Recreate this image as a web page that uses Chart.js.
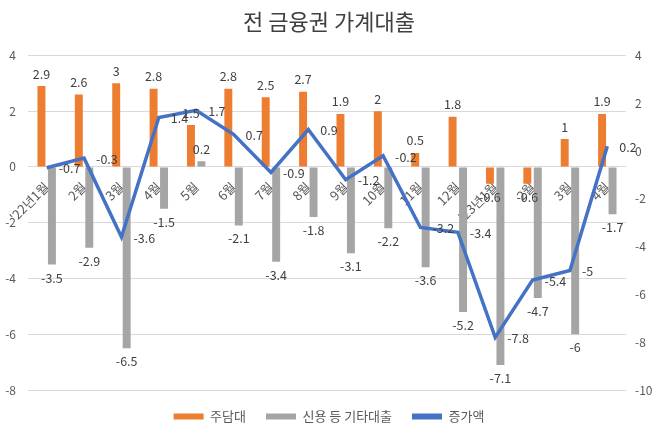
<!DOCTYPE html>
<html>
<head>
<meta charset="utf-8">
<script src="https://cdn.jsdelivr.net/npm/chart.js@4/dist/chart.umd.min.js"></script>
<style>
  html, body { margin: 0; padding: 0; background: #fff; }
  #wrap { width: 658px; height: 433px; }
</style>
</head>
<body>
<div id="wrap"><canvas id="chartjs-0" width="658" height="433"></canvas></div>
<script>
"use strict";

// categories and values
let months = ["'22년1월", "2월", "3월", "4월", "5월", "6월", "7월", "8월", "9월", "10월", "11월", "12월", "'23년1월", "2월", "3월", "4월"];
let mortgage = [2.9, 2.6, 3, 2.8, 1.5, 2.8, 2.5, 2.7, 1.9, 2, 0.5, 1.8, -0.6, -0.6, 1, 1.9];
let creditEtc = [-3.5, -2.9, -6.5, -1.5, 0.2, -2.1, -3.4, -1.8, -3.1, -2.2, -3.6, -5.2, -7.1, -4.7, -6, -1.7];
let increase = [-0.7, -0.3, -3.6, 1.4, 1.7, 0.7, -0.9, 0.9, -1.2, -0.2, -3.2, -3.4, -7.8, -5.4, -5, 0.2];
let leftTicks = [-8, -6, -4, -2, 0, 2, 4];
let rightTicks = [-10, -8, -6, -4, -2, 0, 2, 4];

let fontName = "'Noto Sans CJK KR', 'Noto Sans', sans-serif";

/* draws the value labels next to bars and line points */
let valueLabels = {
    id: "valueLabels",
    afterDatasetsDraw(chart) {
        let ctx = chart.ctx;
        ctx.save();
        ctx.font = "12.5px " + fontName;
        ctx.fillStyle = "#404040";
        chart.data.datasets.forEach(function (ds, di) {
            let meta = chart.getDatasetMeta(di);
            meta.data.forEach(function (el, i) {
                let v = ds.data[i];
                let txt = String(v);
                if (ds.type === "line") {
                    ctx.textAlign = "left";
                    ctx.textBaseline = "middle";
                    ctx.fillText(txt, el.x + 12, el.y + 1);
                } else if (v >= 0) {
                    ctx.textAlign = "center";
                    ctx.textBaseline = "bottom";
                    ctx.fillText(txt, el.x, el.y - 6);
                } else {
                    ctx.textAlign = "center";
                    ctx.textBaseline = "top";
                    ctx.fillText(txt, el.x, el.y + 7);
                }
            });
        });
        ctx.restore();
    }
};

let ctx0 = document.getElementById("chartjs-0");
let myChart0 = new Chart(ctx0, {
    type: "bar",
    data: {
        labels: months,
        datasets: [
            {
                type: "line",
                label: "증가액",
                data: increase,
                yAxisID: "y1",
                borderColor: "#4472C4",
                backgroundColor: "#4472C4",
                borderWidth: 3.5,
                pointRadius: 0,
                tension: 0,
                order: 0
            },
            {
                label: "주담대",
                data: mortgage,
                yAxisID: "y",
                backgroundColor: "#ED7D31",
                categoryPercentage: 0.56,
                barPercentage: 0.76,
                order: 1
            },
            {
                label: "신용 등 기타대출",
                data: creditEtc,
                yAxisID: "y",
                backgroundColor: "#A5A5A5",
                categoryPercentage: 0.56,
                barPercentage: 0.76,
                order: 1
            }
        ]
    },
    options: {
        responsive: false,
        animation: false,
        layout: { padding: { left: 4, right: 4, top: 0, bottom: 0 } },
        plugins: {
            title: {
                display: true,
                text: "전 금융권 가계대출",
                color: "#404040",
                font: { family: fontName, size: 22, weight: "normal" },
                padding: { top: 8, bottom: 21 }
            },
            legend: {
                position: "bottom",
                labels: {
                    color: "#595959",
                    font: { family: fontName, size: 13 },
                    boxWidth: 30,
                    boxHeight: 6,
                    padding: 20,
                    generateLabels(chart) {
                        let items = Chart.defaults.plugins.legend.labels.generateLabels(chart);
                        let order = ["주담대", "신용 등 기타대출", "증가액"];
                        items.forEach(function (it) { it.lineWidth = 0; });
                        items.sort(function (a, b) { return order.indexOf(a.text) - order.indexOf(b.text); });
                        return items;
                    }
                }
            },
            tooltip: { enabled: false }
        },
        scales: {
            x: {
                position: { y: 0 },
                grid: { display: false },
                border: { display: false },
                ticks: {
                    color: "#595959",
                    font: { family: fontName, size: 13 },
                    minRotation: 45,
                    maxRotation: 45,
                    padding: 4,
                    autoSkip: false
                }
            },
            y: {
                position: "left",
                min: -8,
                max: 4,
                afterBuildTicks(scale) { scale.ticks = leftTicks.map(function (v) { return { value: v }; }); },
                afterFit(scale) { scale.width = 24; },
                grid: { color: "#D9D9D9", drawTicks: false },
                border: { display: false },
                ticks: { color: "#595959", font: { family: fontName, size: 12 }, padding: 12 }
            },
            y1: {
                position: "right",
                min: -10,
                max: 4,
                afterBuildTicks(scale) { scale.ticks = rightTicks.map(function (v) { return { value: v }; }); },
                afterFit(scale) { scale.width = 28; },
                grid: { display: false, drawTicks: false },
                border: { display: false },
                ticks: { color: "#595959", font: { family: fontName, size: 12 }, padding: 9 }
            }
        }
    },
    plugins: [valueLabels]
});
</script>
</body>
</html>
